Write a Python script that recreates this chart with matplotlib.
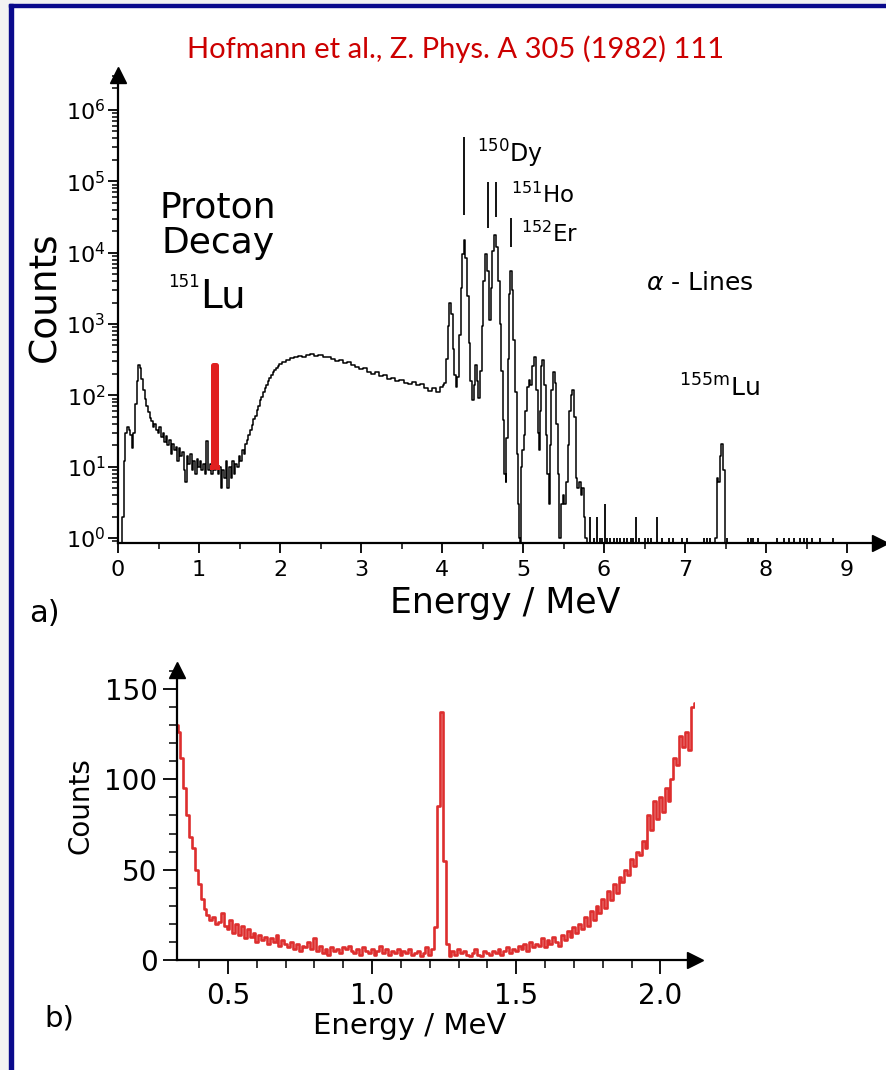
"""Proton decay of 151Lu: alpha spectrum (a) and zoom on the proton line (b)."""
import numpy as np
import matplotlib
matplotlib.use("Agg")
import matplotlib.pyplot as plt
from matplotlib.patches import Rectangle
from matplotlib.ticker import MultipleLocator, LogLocator, NullFormatter, FormatStrFormatter

plt.rcParams["font.family"] = ["DejaVu Sans"]

W, H = 886, 1070

# ---- panel a: counts per channel (energy in MeV)
LOW_E = [0.00, 0.04,
         0.06, 0.08, 0.10, 0.12, 0.14, 0.16, 0.18, 0.20, 0.22, 0.24,
         0.26, 0.28, 0.30, 0.32, 0.34, 0.36, 0.38, 0.40, 0.42, 0.44,
         0.46, 0.48, 0.50, 0.52, 0.54, 0.56, 0.58, 0.60, 0.62, 0.64,
         0.66, 0.68, 0.70, 0.72, 0.74, 0.76, 0.78, 0.80, 0.82, 0.84,
         0.86, 0.88, 0.90, 0.92, 0.94, 0.96, 0.98, 1.00, 1.02, 1.04,
         1.06, 1.08, 1.10, 1.12, 1.14, 1.16, 1.18, 1.20, 1.22, 1.24,
         1.26, 1.28, 1.30, 1.32, 1.34, 1.36, 1.38, 1.40, 1.42, 1.44,
         1.46, 1.48, 1.50, 1.52, 1.54, 1.56, 1.58, 1.60, 1.62, 1.64,
         1.66, 1.68, 1.70, 1.72, 1.74, 1.76, 1.78, 1.80, 1.82, 1.84,
         1.86, 1.88, 1.90, 1.92, 1.94, 1.96, 1.98, 2.00]
LOW_C = [0, 0,
         2, 12, 30, 36, 33, 28, 18, 30, 75, 160,
         270, 240, 170, 120, 90, 70, 58, 48, 44, 36,
         40, 33, 30, 36, 26, 30, 22, 27, 20, 24,
         15, 21, 17, 19, 12, 18, 14, 16, 9, 6,
         14, 11, 15, 9, 12, 8, 13, 10, 12, 9,
         11, 8, 23, 9, 11, 8, 10, 9, 11, 8,
         10, 5, 9, 7, 12, 5, 10, 7, 12, 8,
         11, 10, 14, 12, 17, 15, 21, 24, 28, 33,
         38, 46, 52, 62, 72, 85, 95, 110, 125, 140,
         160, 175, 195, 210, 230, 245, 255, 275]

MID_E = [2.05, 2.10, 2.15, 2.20, 2.25, 2.30, 2.35, 2.40, 2.45, 2.50,
         2.55, 2.60, 2.65, 2.70, 2.75, 2.80, 2.85, 2.90, 2.95, 3.00,
         3.05, 3.10, 3.15, 3.20, 3.25, 3.30, 3.35, 3.40, 3.45, 3.50,
         3.55, 3.60, 3.65, 3.70, 3.75, 3.80, 3.85, 3.90, 3.95, 4.00, 4.02]
MID_C = [295, 315, 330, 340, 355, 350, 368, 375, 355, 362,
         340, 345, 322, 300, 312, 285, 292, 262, 250, 236,
         242, 215, 202, 210, 186, 190, 170, 176, 160, 166,
         150, 146, 156, 138, 142, 128, 115, 126, 110, 132, 140]

PEAK_E = [4.04, 4.06, 4.08, 4.10, 4.12, 4.14, 4.16, 4.18, 4.20, 4.22,
          4.24, 4.26, 4.28, 4.30, 4.32, 4.34, 4.36, 4.38, 4.40, 4.42,
          4.44, 4.46, 4.48, 4.50, 4.52, 4.55, 4.57, 4.59, 4.61, 4.63,
          4.66, 4.68, 4.70, 4.72, 4.74, 4.76, 4.78, 4.79, 4.80, 4.82,
          4.84, 4.85, 4.87, 4.89, 4.91, 4.93, 4.95, 4.96, 4.97, 4.98,
          5.00, 5.02, 5.04, 5.06, 5.08, 5.10, 5.12, 5.15, 5.17, 5.19,
          5.20, 5.21, 5.23, 5.25, 5.27, 5.29, 5.31, 5.32, 5.34, 5.36,
          5.38, 5.40, 5.42, 5.44, 5.46, 5.48, 5.50, 5.52, 5.54, 5.56,
          5.58, 5.60, 5.62, 5.64, 5.66, 5.68, 5.70, 5.72, 5.74, 5.76,
          5.78, 5.80]
PEAK_C = [150, 320, 950, 2000, 1400, 450, 190, 130, 180, 700,
          3200, 9500, 14800, 8500, 2500, 550, 160, 85, 140, 270,
          160, 93, 220, 950, 4000, 9700, 5500, 1150, 3200, 10500,
          17400, 12000, 4000, 1000, 220, 45, 8, 6, 25, 320,
          2600, 5500, 3000, 600, 110, 15, 3, 1, 0, 10,
          17, 28, 60, 130, 165, 140, 260, 350, 120, 30,
          17, 60, 260, 315, 140, 28, 8, 3, 20, 120,
          210, 150, 40, 8, 1, 3, 4, 3, 6, 20,
          60, 100, 118, 50, 7, 5, 6, 4, 5, 2,
          1, 0]

# single sparse channels above 5.8 MeV
HIT_E = [5.83, 5.88, 5.91, 5.95, 5.98, 6.01, 6.04, 6.08, 6.12, 6.16,
         6.20, 6.25, 6.29, 6.33, 6.36, 6.39, 6.43, 6.50, 6.54, 6.58,
         6.66, 6.72, 6.80, 6.85, 6.96, 7.03, 7.24, 7.27, 7.31, 7.52,
         7.78, 7.81, 7.84, 7.90, 8.14, 8.22, 8.28, 8.34, 8.42, 8.47,
         8.51, 8.57, 8.67, 8.83]
HIT_C = [2, 1, 2, 1, 1, 3, 1, 1, 1, 1,
         1, 1, 1, 1, 1, 2, 1, 1, 1, 1,
         2, 1, 1, 1, 1, 1, 1, 1, 1, 1,
         1, 1, 1, 1, 1, 1, 1, 1, 1, 1,
         1, 1, 1, 1]

# 155mLu line
LU_E = [7.35, 7.38, 7.40, 7.42, 7.44, 7.46, 7.48, 7.51]
LU_C = [0, 1, 7, 6, 14, 21, 9, 0]

# proton line highlighted in red in panel a
RED_A_E = [1.16, 1.19, 1.22]
RED_A_C = [10, 270, 10]

# marker bars above the alpha lines (energy, top, bottom counts)
MARK_E = [4.27, 4.57, 4.67, 4.85]
MARK_TOP = [4.2e5, 9.8e4, 9.8e4, 3.1e4]
MARK_BOT = [3.4e4, 2.2e4, 3.2e4, 1.2e4]

# ---- panel b: 10 keV channels from 0.32 MeV
B_START, B_STEP = 0.32, 0.01
B_C = [130, 126, 112, 95, 80, 68, 62, 50, 42, 34,
       28, 25, 22, 24, 20, 21, 26, 19, 17, 22,
       15, 20, 14, 19, 12, 17, 13, 15, 10, 14,
       11, 13, 9, 12, 10, 14, 8, 11, 9, 7,
       10, 6, 9, 5, 8, 7, 10, 6, 12, 5,
       8, 4, 6, 3, 7, 5, 6, 4, 7, 6,
       8, 5, 4, 6, 3, 7, 5, 4, 6, 3,
       5, 8, 4, 6, 3, 5, 4, 6, 3, 5,
       4, 6, 3, 4, 5, 2, 4, 7, 3, 6,
       18, 85, 137, 55, 9, 2, 5, 3, 6, 4,
       5, 3, 2, 4, 6, 3, 2, 5, 4, 3,
       5, 4, 6, 3, 5, 7, 4, 6, 5, 8,
       6, 9, 5, 10, 7, 9, 8, 12, 7, 11,
       9, 13, 10, 8, 14, 11, 16, 13, 18, 15,
       20, 17, 24, 19, 27, 22, 30, 26, 34, 29,
       38, 33, 42, 37, 46, 43, 50, 47, 56, 52,
       60, 58, 66, 62, 80, 72, 88, 78, 90, 82,
       95, 88, 100, 112, 108, 124, 118, 126, 116, 140,
       142]
B_E = B_START + B_STEP * np.arange(len(B_C))

RED = "#dd2e2e"


def fx(x):
    return x / W


def fy(y):
    return 1 - y / H


def arrows(ax):
    ax.plot([1], [0], marker=">", ms=11, color="k", transform=ax.transAxes, clip_on=False)
    ax.plot([0], [1], marker="^", ms=11, color="k", transform=ax.transAxes, clip_on=False)


fig = plt.figure(figsize=(W / 100, H / 100), dpi=100)

# page frame of the slide
fig.add_artist(Rectangle((0, 0), fx(9), 1, transform=fig.transFigure, color="#f2f2f2", zorder=0))
fig.add_artist(Rectangle((0, fy(4)), 1, 4 / H, transform=fig.transFigure, color="#f2f2f2", zorder=0))
fig.add_artist(Rectangle((fx(9), 0), 4 / W, fy(4), transform=fig.transFigure, color="#0a0a8c", zorder=1))
fig.add_artist(Rectangle((fx(9), fy(7)), 1, 3 / H, transform=fig.transFigure, color="#0a0a8c", zorder=1))

# ---- panel a
ax = fig.add_axes([fx(118), fy(543), fx(880) - fx(118), (543 - 75) / H])
ax.set_yscale("log")
ax.plot(LOW_E + MID_E + PEAK_E, LOW_C + MID_C + PEAK_C, drawstyle="steps-mid", color="k", lw=1.1)
ax.plot(LU_E, LU_C, drawstyle="steps-mid", color="k", lw=1.1)
ax.vlines(HIT_E, 0.1, HIT_C, color="k", lw=1.3)
ax.plot(RED_A_E, RED_A_C, drawstyle="steps-mid", color="#e02020", lw=3.6, zorder=4)
ax.vlines(MARK_E, MARK_BOT, MARK_TOP, color="k", lw=1.3)

ax.set_xlim(0, (880 - 118) / 81)
ax.set_ylim(10 ** -0.07, 10 ** 6.49)
for s in ("top", "right"):
    ax.spines[s].set_visible(False)
for s in ("left", "bottom"):
    ax.spines[s].set_linewidth(1.6)
ax.xaxis.set_major_locator(MultipleLocator(1))
ax.xaxis.set_minor_locator(MultipleLocator(0.5))
ax.yaxis.set_major_locator(LogLocator(base=10, numticks=12))
ax.yaxis.set_minor_locator(LogLocator(base=10, subs=np.arange(2, 10), numticks=12))
ax.yaxis.set_minor_formatter(NullFormatter())
ax.tick_params(which="major", length=7, width=1.3, labelsize=16)
ax.tick_params(which="minor", length=4, width=1.1)
ax.tick_params(axis="x", pad=5)
ax.tick_params(axis="y", pad=2)
arrows(ax)

fig.text(fx(456), fy(49), "Hofmann et al., Z. Phys. A 305 (1982) 111", color="#cc0000",
         fontsize=21, family=["Lato", "DejaVu Sans"], ha="center", va="center")
fig.text(fx(45), fy(297), "Counts", rotation=90, fontsize=27, ha="center", va="center")
fig.text(fx(505), fy(603), "Energy / MeV", fontsize=25, ha="center", va="center")
fig.text(fx(44), fy(613), "a)", fontsize=22, ha="center", va="center")
fig.text(fx(218), fy(217), "Proton", fontsize=26, ha="center", va="baseline")
fig.text(fx(218), fy(253), "Decay", fontsize=26, ha="center", va="baseline")
fig.text(fx(168), fy(287), "151", fontsize=12, ha="left", va="baseline")
fig.text(fx(200), fy(307), "Lu", fontsize=28, ha="left", va="baseline")
fig.text(fx(477), fy(163), r"$^{150}$Dy", fontsize=17, ha="left", va="baseline")
fig.text(fx(511), fy(203), r"$^{151}$Ho", fontsize=16.5, ha="left", va="baseline")
fig.text(fx(521), fy(242), r"$^{152}$Er", fontsize=16.5, ha="left", va="baseline")
fig.text(fx(646), fy(290), r"$\alpha$ - Lines", fontsize=18, ha="left", va="baseline")
fig.text(fx(679), fy(397), r"$^{155\mathrm{m}}$Lu", fontsize=18, ha="left", va="baseline")

# ---- panel b
bx = fig.add_axes([fx(177), fy(960), fx(695) - fx(177), (960 - 670) / H])
bx.plot(B_E, B_C, drawstyle="steps-mid", color=RED, lw=1.9)
bx.set_xlim(0.323, 2.12)
bx.set_ylim(0, 160.5)
for s in ("top", "right"):
    bx.spines[s].set_visible(False)
for s in ("left", "bottom"):
    bx.spines[s].set_linewidth(1.6)
bx.xaxis.set_major_locator(MultipleLocator(0.5))
bx.xaxis.set_minor_locator(MultipleLocator(0.1))
bx.xaxis.set_major_formatter(FormatStrFormatter("%.1f"))
bx.yaxis.set_major_locator(MultipleLocator(50))
bx.yaxis.set_minor_locator(MultipleLocator(10))
bx.tick_params(which="major", length=10, width=1.3, labelsize=20)
bx.tick_params(which="minor", length=6, width=1.1)
bx.tick_params(axis="x", pad=6)
bx.tick_params(axis="y", pad=4)
arrows(bx)

fig.text(fx(81), fy(806), "Counts", rotation=90, fontsize=20, ha="center", va="center")
fig.text(fx(410), fy(1026), "Energy / MeV", fontsize=21, ha="center", va="center")
fig.text(fx(59), fy(1018), "b)", fontsize=21, ha="center", va="center")

fig.savefig("out.png", dpi=100)
